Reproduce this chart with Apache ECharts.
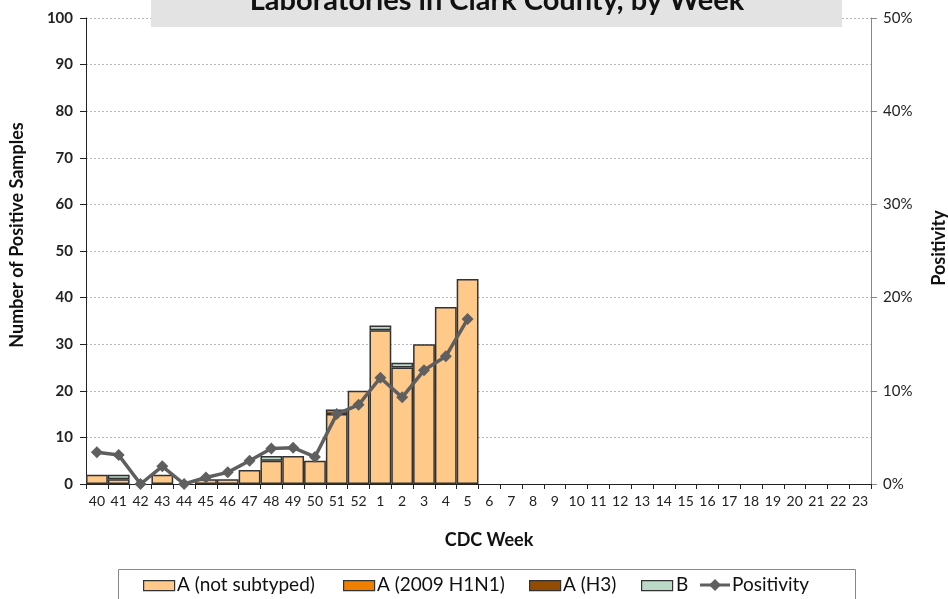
<!DOCTYPE html>
<html>
<head>
<meta charset="utf-8">
<script src="https://cdn.jsdelivr.net/npm/echarts@6/dist/echarts.min.js"></script>
<style>
  html, body { margin: 0; padding: 0; background: #fff; }
  #chart { width: 948px; height: 599px; }
</style>
</head>
<body>
<div id="chart"></div>
<script>
const weeks = ['40', '41', '42', '43', '44', '45', '46', '47', '48', '49', '50', '51', '52',
  '1', '2', '3', '4', '5', '6', '7', '8', '9', '10', '11', '12', '13', '14', '15', '16',
  '17', '18', '19', '20', '21', '22', '23'];

// counts per week (only weeks 40..5 reported)
const notSubtyped = [2, 1, 0, 2, 0, 1, 1, 3, 5, 6, 5, 15, 20, 33, 25, 30, 38, 44];
const h1n1 = [0, 0, 0, 0, 0, 0, 0, 0, 0, 0, 0, 1, 0, 0, 0, 0, 0, 0];
const h3 = [0, 0, 0, 0, 0, 0, 0, 0, 0, 0, 0, 0, 0, 0, 0, 0, 0, 0];
const fluB = [0, 1, 0, 0, 0, 0, 0, 0, 1, 0, 0, 0, 0, 1, 1, 0, 0, 0];
// percent positive
const positivity = [3.4, 3.1, 0, 1.9, 0, 0.7, 1.25, 2.5, 3.8, 3.9, 2.9, 7.5, 8.5, 11.4, 9.3, 12.2, 13.7, 17.7];

const leftTicks = [0, 10, 20, 30, 40, 50, 60, 70, 80, 90, 100];

const font = 'Lato, "Open Sans", sans-serif';
const chart = echarts.init(document.getElementById('chart'));

// empty segments are not drawn (no zero-height outlines)
const noZero = arr => arr.map(v => (v === 0 ? '-' : v));
const barStyle = (color) => ({ color: color, borderColor: '#333', borderWidth: 1.5 });

const legendText = { fill: '#111', font: '19px ' + font, textVerticalAlign: 'middle' };
const swatch = (x, color) => ({
  type: 'rect', left: x, top: 580, shape: { width: 31, height: 10 },
  style: { fill: color, stroke: '#333', lineWidth: 1.2 }
});

chart.setOption({
  animation: false,
  textStyle: { fontFamily: font },
  grid: { left: 86, right: 77, top: 18, bottom: 115 },
  xAxis: {
    type: 'category',
    data: weeks,
    axisLine: { lineStyle: { color: '#222', width: 1 } },
    axisTick: { show: true, length: 5, lineStyle: { color: '#222' } },
    axisLabel: { color: '#222', fontSize: 14, margin: 10, interval: 0, fontFamily: font }
  },
  yAxis: [{
    type: 'value',
    min: leftTicks[0],
    max: leftTicks[leftTicks.length - 1],
    interval: 10,
    axisLine: { show: true, lineStyle: { color: '#222' } },
    axisTick: { show: true, length: 6, lineStyle: { color: '#222' } },
    axisLabel: { color: '#222', fontSize: 15, fontWeight: 'bold', margin: 13, fontFamily: font },
    splitLine: { lineStyle: { color: '#b8b8b8', type: [2, 2] } }
  }, {
    type: 'value',
    min: 0,
    max: 50,
    interval: 10,
    position: 'right',
    axisLine: { show: true, lineStyle: { color: '#888' } },
    axisTick: { show: true, length: 6, lineStyle: { color: '#888' } },
    axisLabel: { color: '#222', fontSize: 15, margin: 12, formatter: '{value}%', fontFamily: font },
    splitLine: { show: false }
  }],
  legend: { show: false },
  series: [
    { name: 'A (not subtyped)', type: 'bar', stack: 'all', data: noZero(notSubtyped),
      barCategoryGap: 0, itemStyle: barStyle('#ffc98a') },
    { name: 'A (2009 H1N1)', type: 'bar', stack: 'all', data: noZero(h1n1),
      barCategoryGap: 0, itemStyle: barStyle('#f07f00') },
    { name: 'A (H3)', type: 'bar', stack: 'all', data: noZero(h3),
      barCategoryGap: 0, itemStyle: barStyle('#924b00') },
    { name: 'B', type: 'bar', stack: 'all', data: noZero(fluB),
      barCategoryGap: 0, itemStyle: barStyle('#bad8c6') },
    { name: 'Positivity', type: 'line', yAxisIndex: 1, data: positivity,
      symbol: 'diamond', symbolSize: 12, z: 5,
      lineStyle: { color: '#5f5f5f', width: 3.5 },
      itemStyle: { color: '#5f5f5f' } }
  ],
  graphic: [
    { type: 'rect', left: 151, top: 0, shape: { width: 691, height: 27 },
      style: { fill: '#e3e3e3' }, z: 10 },
    { type: 'text', x: 497, y: 15, z: 11,
      style: { text: 'Laboratories in Clark County, by Week', fill: '#111',
        font: 'bold 29px ' + font, textAlign: 'center', textVerticalAlign: 'bottom' } },
    { type: 'text', x: 17, y: 235, rotation: Math.PI / 2,
      style: { text: 'Number of Positive Samples', fill: '#111',
        font: 'bold 18px ' + font, textAlign: 'center', textVerticalAlign: 'middle' } },
    { type: 'text', x: 939, y: 248, rotation: Math.PI / 2,
      style: { text: 'Positivity', fill: '#111',
        font: 'bold 18px ' + font, textAlign: 'center', textVerticalAlign: 'middle' } },
    { type: 'text', x: 489, y: 540,
      style: { text: 'CDC Week', fill: '#111',
        font: 'bold 18px ' + font, textAlign: 'center', textVerticalAlign: 'middle' } },
    // legend box
    { type: 'rect', left: 118, top: 569, shape: { width: 737, height: 40 },
      style: { fill: '#fff', stroke: '#888', lineWidth: 1 } },
    swatch(143, '#ffc98a'),
    { type: 'text', x: 177, y: 585, style: Object.assign({ text: 'A (not subtyped)' }, legendText) },
    swatch(343, '#f07f00'),
    { type: 'text', x: 377, y: 585, style: Object.assign({ text: 'A (2009 H1N1)' }, legendText) },
    swatch(529, '#924b00'),
    { type: 'text', x: 563, y: 585, style: Object.assign({ text: 'A (H3)' }, legendText) },
    swatch(641, '#bad8c6'),
    { type: 'text', x: 676, y: 585, style: Object.assign({ text: 'B' }, legendText) },
    { type: 'line', shape: { x1: 700, y1: 585, x2: 730, y2: 585 },
      style: { stroke: '#5f5f5f', lineWidth: 3 } },
    { type: 'polygon', shape: { points: [[715, 579], [721, 585], [715, 591], [709, 585]] },
      style: { fill: '#5f5f5f' } },
    { type: 'text', x: 732, y: 585, style: Object.assign({ text: 'Positivity' }, legendText) }
  ]
});
</script>
</body>
</html>
